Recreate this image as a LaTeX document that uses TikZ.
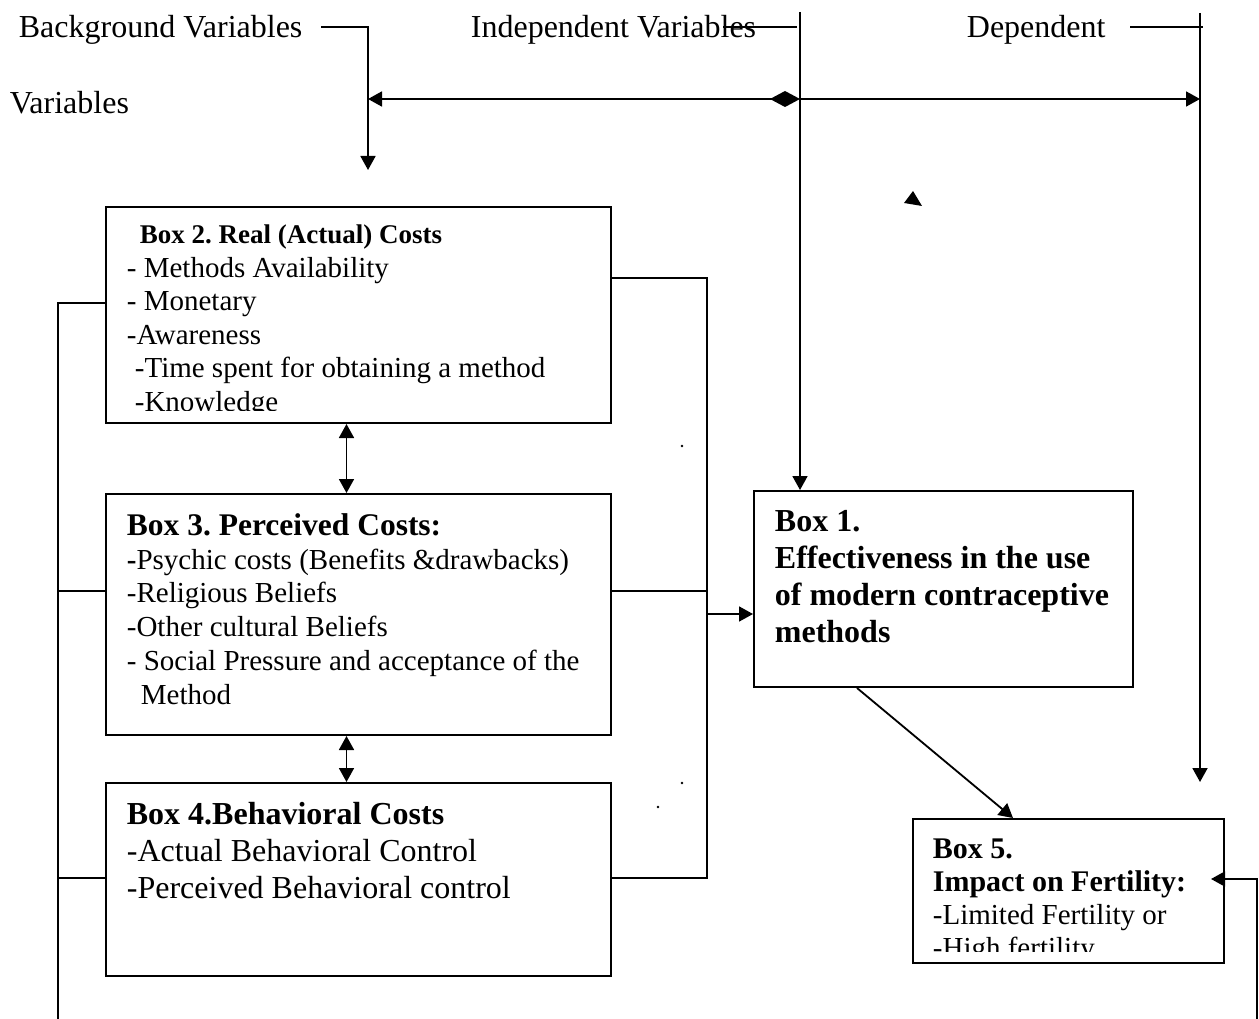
\documentclass[tikz,border=0pt]{standalone}
\usepackage{fontspec}
\setmainfont{Liberation Serif}
\usetikzlibrary{arrows.meta,positioning,calc}
\frenchspacing

\begin{document}
\begin{tikzpicture}[
    x=1pt, y=-1pt,
    line width=1.8pt,
    box/.style={draw, line width=2pt, anchor=north west, inner sep=0pt},
    txt/.style={anchor=base west, align=left, inner sep=0pt},
    hdr/.style={anchor=west, inner sep=0pt, font=\fontsize{32}{38}\selectfont},
    arr/.style={-{Triangle[length=14pt, width=15pt]}},
    dbl/.style={{Triangle[length=14pt, width=15pt]}-{Triangle[length=14pt, width=15pt]}}
  ]
  \useasboundingbox (0,0) rectangle (1259,1019);

  % header labels
  \node[hdr] (bgvar) at (18,30) {Background Variables};
  \node[hdr] (bgvar2) at (9,103) {Variables};
  \node[hdr] (indvar) at (470,30) {Independent Variables};
  \node[hdr] (depvar) at (966,30) {Dependent};

  % boxes
  \node[box, minimum width=505pt, minimum height=216pt] (box2) at (105,206) {};
  \node[box, minimum width=505pt, minimum height=241pt] (box3) at (105,493) {};
  \node[box, minimum width=505pt, minimum height=193pt] (box4) at (105,782) {};
  \node[box, minimum width=379pt, minimum height=196pt] (box1) at (753,490) {};
  \node[box, minimum width=311pt, minimum height=144pt] (box5) at (912,818) {};

  % box texts (base = last line)
  \begin{scope}
    \clip (105,206) rectangle (610,410);
    \node[txt, font=\fontsize{29}{33.5}\selectfont] (box2txt) at (126,411)
      {\hspace*{13pt}{\bfseries\fontsize{27}{33.5}\selectfont Box 2. Real (Actual) Costs}\\
       - Methods Availability\\
       - Monetary\\
       -Awareness\\
       \hspace*{8pt}-Time spent for obtaining a method\\
       \hspace*{8pt}-Knowledge};
  \end{scope}
  \node[txt, font=\fontsize{29}{33.7}\selectfont] (box3txt) at (126,704)
    {{\bfseries\fontsize{31.5}{33.7}\selectfont Box 3. Perceived Costs:}\\
     \textbf{-}Psychic costs (Benefits \&drawbacks)\\
     -Religious Beliefs\\
     -Other cultural Beliefs\\
     - Social Pressure and acceptance of the\\
     \hspace*{14pt}Method};
  \node[txt, font=\fontsize{32}{37}\selectfont] (box4txt) at (126,898)
    {\textbf{Box 4.Behavioral Costs}\\
     -Actual Behavioral Control\\
     -Perceived Behavioral control};
  \node[txt, font=\fontsize{32}{37}\selectfont\bfseries] (box1txt) at (774,642)
    {Box 1.\\
     Effectiveness in the use\\
     of modern contraceptive\\
     methods};
  \begin{scope}
    \clip (912,818) rectangle (1223,951);
    \node[txt, font=\fontsize{29}{33}\selectfont] (box5txt) at (932,957)
      {{\bfseries\fontsize{30}{33}\selectfont Box 5.}\\
       {\bfseries\fontsize{30}{33}\selectfont Impact on Fertility:}\\
       -Limited Fertility or\\
       -High fertility};
  \end{scope}

  % free ends and bends
  \coordinate (bgdrop) at (368,170);
  \coordinate (indtop) at (800,12);
  \coordinate (deptop) at (1200,13);
  \coordinate (depdrop) at (1200,782);
  \coordinate (hl) at (368,99);
  \coordinate (hm) at (800,99);
  \coordinate (hr) at (1200,99);
  \coordinate (lb2) at (58,303);
  \coordinate (lb3) at (58,591);
  \coordinate (lb4) at (58,878);
  \coordinate (lend) at (58,1019);
  \coordinate (rb2) at (707,278);
  \coordinate (rb3) at (707,591);
  \coordinate (rb4) at (707,878);
  \coordinate (rbin) at (707,614);
  \coordinate (fbend) at (1257,1019);
  \coordinate (fbin) at (1211,879);

  % header connectors
  \draw[arr] ([xshift=18pt, yshift=3pt]bgvar.east) -| (bgdrop);
  \draw ([xshift=-34pt, yshift=3pt]indvar.east) -- ++(74,0);
  \draw ([xshift=24pt, yshift=3pt]depvar.east) -- ++(73,0);
  \draw[arr] (indtop) -- (indtop |- box1.north);
  \draw[arr] (deptop) -- (depdrop);
  \draw[{Triangle[length=14pt, width=15pt]}-{Diamond[length=30pt, width=16pt]}] (hl) -- (hm);
  \draw[arr] (hm) -- (hr);

  % left and right buses
  \draw (lb2 -| box2.west) -- (lb2) -- (lend);
  \draw (lb3) -- (lb3 -| box3.west);
  \draw (lb4) -- (lb4 -| box4.west);
  \draw (rb2 -| box2.east) -- (rb2) -- (rb4) -- (rb4 -| box4.east);
  \draw (rb3 -| box3.east) -- (rb3);
  \draw[arr] (rbin) -- (rbin -| box1.west);

  % between boxes
  \draw[dbl] ([xshift=-12pt]box2.south) -- ([xshift=-12pt]box3.north);
  \draw[dbl] ([xshift=-12pt]box3.south) -- ([xshift=-12pt]box4.north);
  \draw[arr] ([xshift=104pt]box1.south west) -- ([xshift=101pt]box5.north west);
  \draw[arr] (fbend) |- (fbin);

  % stray marks
  \fill (904,203) -- (913,191) -- (922,206) -- cycle;
  \fill (682,446) circle (1.3);
  \fill (682,783) circle (1.3);
  \fill (658,807) circle (1.3);
\end{tikzpicture}
\end{document}
